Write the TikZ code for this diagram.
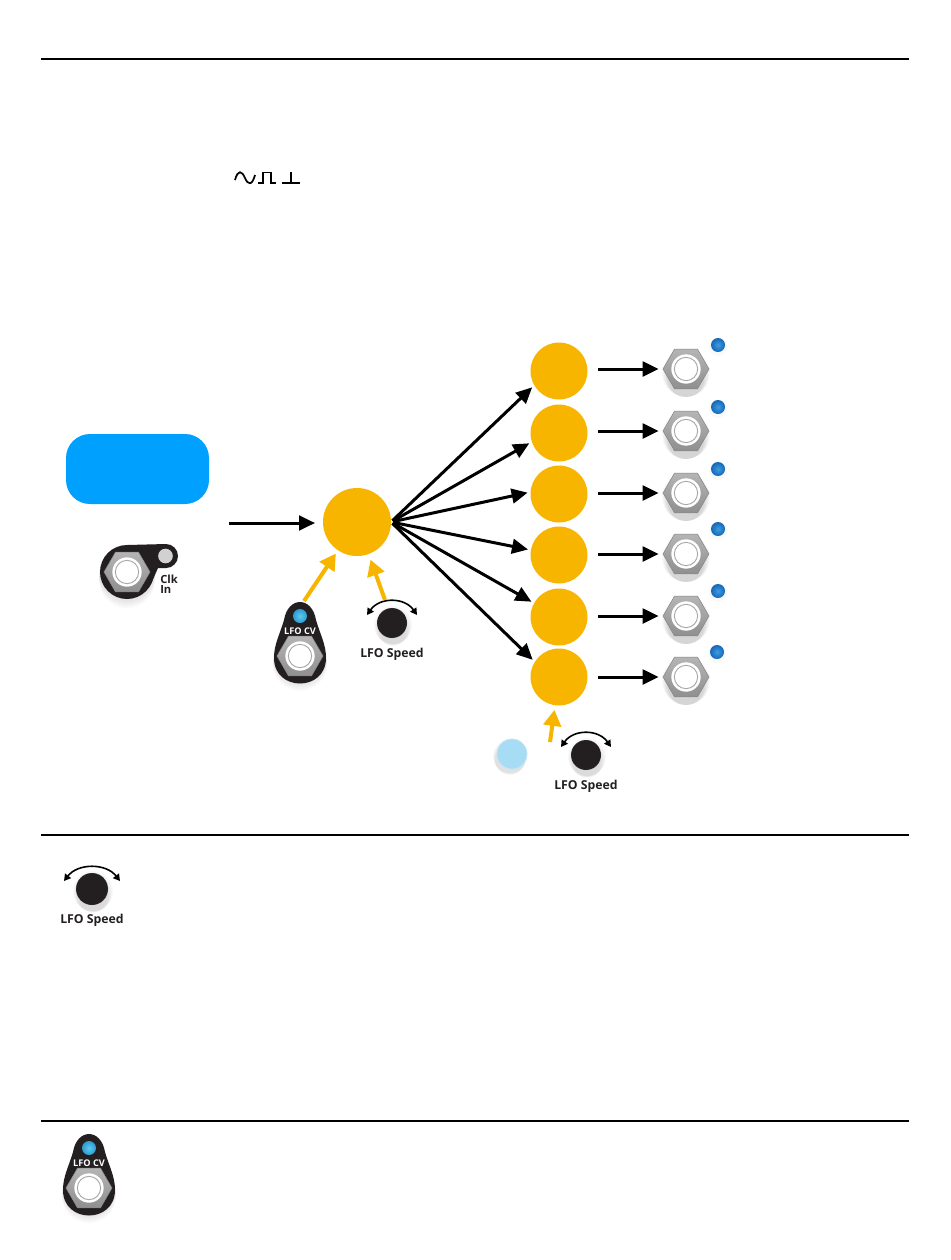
\documentclass[tikz,border=0pt]{standalone}
\usepackage{fontspec}
\setmainfont{Open Sans}
\usetikzlibrary{arrows.meta,shapes.geometric}
\definecolor{amber}{HTML}{F7B500}
\definecolor{skyb}{HTML}{00A0FF}
\definecolor{ledblue}{HTML}{1468B8}
\definecolor{ledmid}{HTML}{3F9BE0}
\definecolor{ledcv}{HTML}{2F9AD0}
\definecolor{ledcvin}{HTML}{5CCBEE}
\definecolor{palelight}{HTML}{A6DCF4}
\definecolor{body}{HTML}{231F20}
\definecolor{hexg}{HTML}{A8A8A8}
\tikzset{
  x=0.75pt,y=-0.75pt,
  rule/.style={draw=black,line width=1.5pt},
  bigdot/.style={circle,fill=amber,inner sep=0pt,outer sep=0pt,minimum size=51pt},
  smalldot/.style={circle,fill=amber,inner sep=0pt,outer sep=0pt,minimum size=42.75pt},
  blackarrow/.style={draw=black,line width=2.25pt,-{Triangle[length=12pt,width=11pt]}},
  ambarrow/.style={draw=amber,line width=3pt,-{Triangle[length=12pt,width=13pt]}},
  wave/.style={draw=black,line width=1.3pt},
  jackhex/.style={regular polygon,regular polygon sides=6,top color=hexg!85!white,bottom color=hexg!85!black,draw=hexg!80!black,line width=.4pt,inner sep=0pt,minimum size=34.5pt},
  jackring/.style={circle,fill=white,inner sep=0pt,minimum size=22pt},
  jackin/.style={circle,draw=hexg,line width=.7pt,fill=white,inner sep=0pt,minimum size=17.5pt},
  soft/.style={fill=black,opacity=.025},
  knoblabel/.style={font=\fontsize{9.2}{10}\selectfont\bfseries,text=body,inner sep=0pt},
  cvlabel/.style={font=\fontsize{6.9}{9}\selectfont\bfseries,text=white,inner sep=0pt},
  clklabel/.style={font=\fontsize{8.4}{7.6}\selectfont\bfseries,text=body,inner sep=0pt,align=left},
}
% jack: name, x, y
\newcommand{\jacknut}[3]{%
  \foreach \d/\s in {10/18,9/19,8/20,7/21,6/22,5/23,4/24}{\fill[soft] (#2,#3+\d) circle (\s);}
  \node[jackhex] (#1) at (#2,#3) {};
  \node[jackring] at (#2,#3) {};
  \node[jackin] at (#2,#3) {};
}
\newcommand{\outled}[3]{%
  \fill[soft] (#2,#3+2) circle (9);
  \node[circle,inner color=ledmid,outer color=ledblue,inner sep=0pt,minimum size=10.5pt] (#1) at (#2,#3) {};
}
% knob: name, x, y, arc half-width, radius
\newcommand{\speedknob}[5]{%
  \foreach \d/\s in {9/-2,8/0,6/1,5/2,3/3,2/4}{\fill[soft] (#2+1,#3+\d) circle (#5+\s);}
  \node[circle,fill=body,draw=black!45,densely dotted,line width=.3pt,inner sep=0pt,minimum size=#5*1.5pt] (#1) at (#2,#3) {};
  \draw[black,line width=1.2pt,{Triangle[length=5pt,width=5.5pt]}-{Triangle[length=5pt,width=5.5pt]}]
    (#2-#4,#3-8) .. controls (#2-#4*.5,#3-26) and (#2+#4*.5,#3-26) .. (#2+#4,#3-8);
  \node[knoblabel] at (#2,#3+31) {LFO Speed};
}
% lfo cv plate: name, x, y of the jack centre
\newcommand{\cvplate}[3]{%
  \begin{scope}[shift={(#2,#3)}]
    \foreach \d in {8,6,4,2}{\fill[soft] (0,\d) circle (27);}
    \fill[body] (-26,2) .. controls (-26,-12) and (-20,-22) .. (-16,-36)
       .. controls (-12,-60) and (12,-60) .. (16,-36)
       .. controls (20,-22) and (26,-12) .. (26,2)
       .. controls (26,36) and (-26,36) .. (-26,2) -- cycle;
    \node[jackhex] (#1) at (0,0) {};
    \node[jackring] at (0,0) {};
    \node[jackin] at (0,0) {};
    \node[circle,inner color=ledcvin,outer color=ledcv,inner sep=0pt,minimum size=10.5pt] at (0,-40) {};
    \node[cvlabel] at (0,-25) {LFO CV};
  \end{scope}
}
\begin{document}
\begin{tikzpicture}
\useasboundingbox (0,0) rectangle (950,1260);
\fill[white] (0,0) rectangle (950,1260);
% rules
\draw[rule] (41,59) -- (909,59);
\draw[rule] (41,835) -- (909,835);
\draw[rule] (41,1121) -- (909,1121);
% waveform glyphs
\draw[wave] (235,180) .. controls (238,169) and (242,171) .. (245,178) .. controls (248,185) and (252,186) .. (255,175);
\draw[wave] (258,183) -- (263,183) -- (263,172.5) -- (271,172.5) -- (271,183) -- (276,183);
\draw[wave] (282,183) -- (300,183);
\draw[wave] (291,172) -- (291,183);
% tempo box
\node[rectangle,rounded corners=18pt,fill=skyb,inner sep=0pt,outer sep=0pt,minimum width=107.25pt,minimum height=52.5pt] (tempobox) at (137.5,469) {};
% clock jack plate
\foreach \d in {8,6,4,2}{\fill[soft] (127,572+\d) circle (28);}
\fill[body] (127,572) circle (27);
\fill[body] (166,556) circle (12);
\fill[body] (127,545) -- (166,544) -- (166,568) -- (158,568) -- (151,584) -- (127,590) -- cycle;
\node[jackhex] (clkjack) at (127,572) {};
\node[jackring] at (127,572) {};
\node[jackin] at (127,572) {};
\node[circle,fill=black!18,inner sep=0pt,minimum size=11pt] (clkled) at (165.5,556) {};
\node[clklabel,anchor=west] (clktext) at (160,584) {Clk\\In};
% main dots
\node[bigdot] (hub) at (357,522) {};
\node[smalldot] (o1) at (559,371) {};
\node[smalldot] (o2) at (559,433) {};
\node[smalldot] (o3) at (559,494) {};
\node[smalldot] (o4) at (559,555) {};
\node[smalldot] (o5) at (559,617) {};
\node[smalldot] (o6) at (559,677) {};
% output jacks and leds
\jacknut{j1}{686}{369}
\jacknut{j2}{686}{431}
\jacknut{j3}{686}{493}
\jacknut{j4}{686}{554}
\jacknut{j5}{686}{616}
\jacknut{j6}{686}{677}
\outled{l1}{718}{345}
\outled{l2}{718}{407}
\outled{l3}{718}{469}
\outled{l4}{718}{529}
\outled{l5}{718}{591}
\outled{l6}{717}{652}
% controls
\cvplate{cvjack}{300}{656}
\cvplate{cvjackb}{89}{1188}
\speedknob{knoba}{392}{623}{25}{15}
\speedknob{knobb}{586}{755}{25}{15}
\speedknob{knobc}{92}{889}{28}{16}
\foreach \d/\s in {6/15,5/15.5,4/16,3/16.5,2/17}{\fill[soft] (510,754+\d) circle (\s);}
\node[circle,fill=palelight,draw=palelight!70!white,line width=.6pt,inner sep=0pt,minimum size=22.5pt] (lightdot) at (512,754) {};
% connector free ends
\coordinate (inend) at (229,523);
\coordinate (cvend) at (304,601);
\coordinate (kaend) at (385,600);
\coordinate (kbend) at (550,742);
% connectors
\draw[blackarrow,shorten >=6pt] (inend) -- (hub.west |- inend);
\foreach \t/\a in {o1/210,o2/198,o3/176,o4/170,o5/151,o6/148}{
  \draw[blackarrow,shorten >=2.25pt,shorten <=1.5pt] (hub.east) -- (\t.\a);
}
\foreach \a/\b in {o1/j1,o2/j2,o3/j3,o4/j4,o5/j5,o6/j6}{
  \draw[blackarrow,shorten <=8pt,shorten >=3pt] (\a.east |- \b.west) -- (\b.west);
}
\draw[ambarrow,shorten >=3pt] (cvend) -- (hub);
\draw[ambarrow,shorten >=4.5pt] (kaend) -- (hub);
\draw[ambarrow,shorten >=3.5pt] (kbend) -- (o6);
\end{tikzpicture}
\end{document}
